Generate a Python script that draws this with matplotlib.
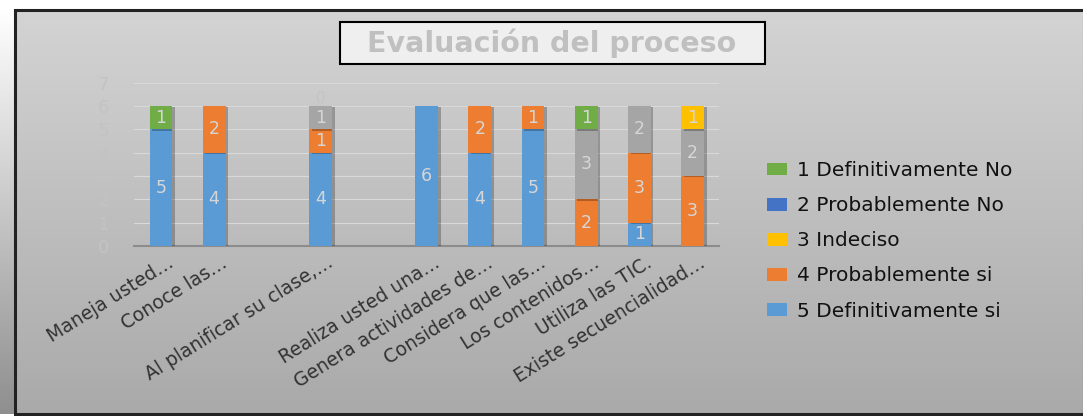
import numpy as np
import matplotlib
matplotlib.use("Agg")
import matplotlib.pyplot as plt
from matplotlib.patches import Rectangle, Patch
import matplotlib.patheffects as pe

# ---------------- data ----------------
categories = ["Maneja usted…", "Conoce las…", "", "Al planificar su clase,…", "",
              "Realiza usted una…", "Genera actividades de…", "Considera que las…",
              "Los contenidos…", "Utiliza las TIC.", "Existe secuencialidad…"]
s5_def_si   = [5, 4, 0, 4, 0, 6, 4, 5, 0, 1, 0]   # 5 Definitivamente si
s4_prob_si  = [0, 2, 0, 1, 0, 0, 2, 1, 2, 3, 3]   # 4 Probablemente si
s_grey      = [0, 0, 0, 1, 0, 0, 0, 0, 3, 2, 2]   # (unlabelled series)
s3_indeciso = [0, 0, 0, 0, 0, 0, 0, 0, 0, 0, 1]   # 3 Indeciso
s2_prob_no  = [0, 0, 0, 0, 0, 0, 0, 0, 0, 0, 0]   # 2 Probablemente No
s1_def_no   = [1, 0, 0, 0, 0, 0, 0, 0, 1, 0, 0]   # 1 Definitivamente No
zero_labels = [(3, 6)]  # a "0" data label shown on top of the 4th slot
yticks = [0, 1, 2, 3, 4, 5, 6, 7]
title = "Evaluación del proceso"

W, H = 1083, 416
fig = plt.figure(figsize=(W / 100, H / 100), dpi=100)
fig.patch.set_facecolor("white")

def fx(px):
    return px / W

def fy(py):
    return 1 - py / H

# ---------------- background ----------------
bg = fig.add_axes([0, 0, 1, 1], zorder=-10)
bg.axis("off")
strip = np.linspace(1.0, 0.56, 256).reshape(-1, 1)
bg.imshow(np.dstack([strip] * 3), extent=(0, 15, 414, 10), aspect="auto", interpolation="bilinear")
grad = np.linspace(0.83, 0.665, 256).reshape(-1, 1)
bg.imshow(np.dstack([grad] * 3), extent=(15, W, 414, 10), aspect="auto", interpolation="bilinear")
bg.add_patch(Rectangle((15, 10), W - 14, 404, fill=False, edgecolor="#222222", lw=2.2))
bg.set_xlim(0, W)
bg.set_ylim(H, 0)

# title box
bg.add_patch(Rectangle((340, 22), 425, 42, facecolor="#efefef", edgecolor="black", lw=1.5))
bg.text(552, 43, title, ha="center", va="center", fontsize=20.5, fontweight="bold",
        color="#c0c0c0", family="DejaVu Sans")

# ---------------- main axes ----------------
ax = fig.add_axes([fx(134.4), fy(246), fx(584.6), 163.3 / H])
ax.set_facecolor("none")
x = np.arange(len(categories))
width = 0.43

series = [
    (s5_def_si, "#5B9BD5", "5 Definitivamente si"),
    (s4_prob_si, "#ED7D31", "4 Probablemente si"),
    (s_grey, "#A5A5A5", None),
    (s3_indeciso, "#FFC000", "3 Indeciso"),
    (s2_prob_no, "#4472C4", "2 Probablemente No"),
    (s1_def_no, "#70AD47", "1 Definitivamente No"),
]
bottom = np.zeros(len(categories))
handles = {}
shadow = [pe.SimplePatchShadow(offset=(2, -1), shadow_rgbFace="black", alpha=0.25), pe.Normal()]
for vals, col, lab in series:
    v = np.array(vals, dtype=float)
    bars = ax.bar(x, v, width, bottom=bottom, color=col, zorder=3)
    for b, val in zip(bars, v):
        if val > 0:
            b.set_path_effects(shadow)
            ax.text(b.get_x() + b.get_width() / 2, b.get_y() + val / 2, f"{int(val)}",
                    ha="center", va="center", fontsize=12.5, color="#d6d6d6", zorder=5)
    if lab:
        handles[lab] = Patch(facecolor=col)
    bottom += v
for xi, yv in zero_labels:
    ax.text(x[xi], yv, "0", ha="center", va="bottom", fontsize=11, color="#c4c4c4", zorder=6)

ax.set_xlim(-0.5, len(categories) - 0.5)
ax.set_ylim(0, 7)
ax.set_yticks(yticks)
ax.set_yticklabels([str(t) for t in yticks], color="#c3c3c3", fontsize=13)
ax.tick_params(axis="y", length=0, pad=18)
ax.tick_params(axis="x", length=0, pad=5)
ax.set_xticks(x)
ax.set_xticklabels(categories, rotation=32, ha="right", rotation_mode="anchor",
                   fontsize=13.5, color="#333333")
for t in ax.get_xticklabels():
    t.set_transform(t.get_transform() + matplotlib.transforms.ScaledTranslation(0.06, 0, fig.dpi_scale_trans))
ax.yaxis.grid(True, color="#d9d9d9", lw=0.8, zorder=0)
for s in ["top", "right", "left"]:
    ax.spines[s].set_visible(False)
ax.spines["bottom"].set_color("#8c8c8c")
ax.spines["bottom"].set_linewidth(1.5)

order = ["1 Definitivamente No", "2 Probablemente No", "3 Indeciso",
         "4 Probablemente si", "5 Definitivamente si"]
leg = fig.legend([handles[k] for k in order], order, loc="upper left",
                 bbox_to_anchor=(fx(749), fy(143)), frameon=False,
                 handlelength=1.0, handleheight=0.6, handletextpad=0.5,
                 labelspacing=0.8, prop={"family": "DejaVu Sans", "size": 14.5})
for t in leg.get_texts():
    t.set_color("#111111")

fig.savefig("out.png", dpi=100)
